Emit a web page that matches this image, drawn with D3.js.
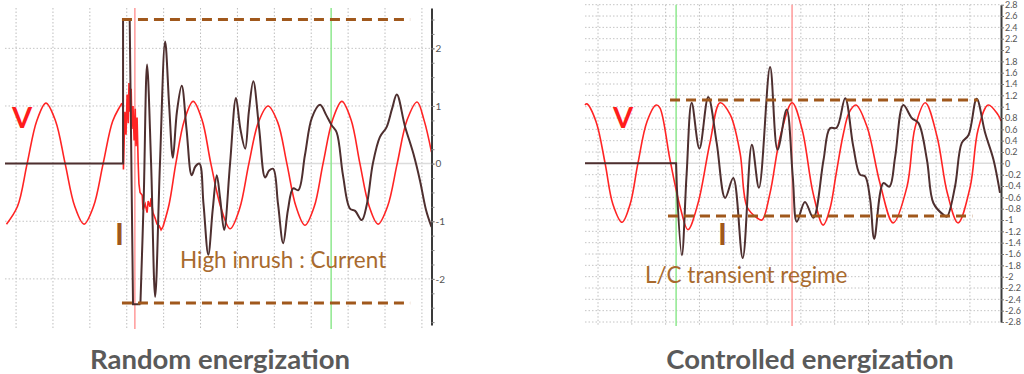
<!DOCTYPE html>
<html>
<head>
<meta charset="utf-8">
<script src="https://cdn.jsdelivr.net/npm/d3@7"></script>
<style>
  body { margin: 0; background: #fff; }
  svg { display: block; font-family: Lato, "Open Sans", sans-serif; }
</style>
</head>
<body>
<svg id="grafico" width="1024" height="374"></svg>
<script>
// time in ms, values in per unit

// random energization
const leftVoltageA = [[-2.6,-1.05],[0.4,-0.74],[3.0,0],[5.6,0.74],[8.1,1.05],[10.7,0.74],[13.3,0],[15.9,-0.74],[18.4,-1.05],[21.0,-0.74],[23.6,0],[26.2,0.74],[28.7,1.05]]
const leftVoltageNoise = [[28.7,1.05],[29.0,0.95],[29.1,-0.1],[29.3,0.4],[29.5,0.9],[29.8,0.5],[30.1,1.2],[30.4,0.7],[30.6,1.4],[30.9,0.9],[31.2,1.3],[31.4,0.6],[31.7,1.0],[32.0,0.4],[32.3,0.95],[32.5,0.3],[32.8,0.8],[33.1,0.0],[33.3,-0.35],[33.6,-0.5],[34.2,-0.55],[34.4,-0.8],[35.0,-0.7],[35.5,-0.85],[35.8,-0.65],[36.3,-0.75],[36.6,-0.6],[37.1,-0.85],[37.7,-0.95],[38.2,-1.05],[38.8,-1.08],[39.3,-1.15],[39.8,-1.1]]
const leftVoltageB = [[39.8,-1.1],[41.5,-0.7],[43.3,0],[45.6,0.75],[48.0,1.08],[50.4,0.76],[52.8,0],[55.6,-0.78],[58.0,-1.13],[60.6,-0.78],[63.1,0],[65.7,0.72],[68.3,1.0],[70.9,0.72],[73.4,0],[75.9,-0.75],[78.3,-1.07],[80.8,-0.75],[83.2,0],[85.8,0.76],[88.3,1.08],[90.8,0.76],[93.2,0],[95.7,-0.74],[98.1,-1.05],[100.7,-0.74],[103.3,0],[106.0,0.76],[108.7,1.07],[110.6,0.75],[112.6,0.2]]
const leftCurrentStep = [[-3.0,0],[29.0,0],[29.0,2.49],[30.8,2.49],[31.7,-2.44],[33.7,-2.44]]
const leftCurrentWave = [[33.7,-2.44],[34.6,-0.6],[35.5,1.72],[36.6,0.0],[37.7,-2.31],[39.0,0.0],[40.4,2.12],[41.5,1.0],[42.5,0.1],[43.6,0.9],[44.9,1.35],[46.2,0.6],[47.6,-0.2],[48.6,-0.05],[49.7,0.0],[50.8,-0.7],[52.1,-1.58],[53.3,-0.8],[54.4,-0.2],[55.3,-0.6],[56.4,-1.15],[58.0,0.0],[59.6,1.14],[60.8,0.6],[62.1,0.26],[63.1,0.9],[64.3,1.43],[65.9,0.6],[67.5,-0.24],[68.6,-0.12],[69.7,-0.09],[71.0,-0.7],[72.4,-1.38],[73.7,-0.8],[75.1,-0.43],[76.5,-0.46],[78.3,0.15],[80.2,0.8],[82.4,1.02],[84.0,0.85],[85.5,0.67],[86.9,0.54],[88.6,-0.2],[90.5,-0.78],[91.9,-0.82],[93.7,-0.98],[95.1,-0.7],[96.7,0.0],[98.6,0.46],[100.4,0.63],[101.9,0.95],[103.2,1.2],[105.4,0.65],[107.7,0.17],[109.5,-0.3],[111.1,-0.8],[112.6,-1.1]]
const leftLimits = [{v: 2.5, t0: 28.7, t1: 106.8}, {v: -2.42, t0: 28.7, t1: 106.8}]
const leftMarkers = [{t: 32.2, color: '#ff9a9a'}, {t: 85.4, color: '#8ee88e'}]
const leftTicks = [-2, -1, 0, 1, 2]

// controlled energization
const rightVoltage = [[-3.85,1.03],[-3.3,1.05],[-0.6,0.74],[2.1,0],[4.4,-0.72],[7.1,-1.04],[9.5,-0.72],[11.8,0],[14.5,0.74],[17.2,1.03],[18.3,0.98],[21.3,0.06],[24.3,-0.77],[26.6,-1.17],[29.6,-0.7],[33.1,0.36],[36.1,1.07],[39.1,0.86],[42.0,0.19],[44.1,-0.77],[47.0,-0.96],[48.5,-1.0],[50.9,-0.52],[53.9,0.47],[57.4,1.07],[60.4,0.59],[63.6,-0.52],[66.6,-1.09],[68.6,-0.8],[70.4,-0.2],[72.5,0.5],[74.3,0.9],[76.3,1.03],[79.6,0.64],[83.4,-0.35],[87.3,-1.05],[91.4,-0.41],[93.8,0.64],[96.8,1.07],[100.3,0.47],[103.3,-0.52],[106.5,-1.05],[110.1,-0.41],[112.4,0.59],[115.4,1.03],[118.3,0.86],[119.2,0.75]]
const rightCurrentStep = [[-3.85,0],[23.1,0],[23.3,-0.4]]
const rightCurrentWave = [[23.3,-0.4],[24.8,-1.62],[26.2,-0.2],[27.7,1.07],[30.0,0.26],[32.6,1.17],[35.1,0.36],[37.6,-0.61],[40.0,-0.26],[42.8,-1.67],[45.5,0.33],[47.6,-0.43],[50.9,1.70],[53.1,0.24],[55.8,0.95],[57.6,-0.23],[58.8,-1.03],[61.2,-0.68],[63.7,-0.96],[66.7,0.06],[68.6,0.62],[70.6,0.63],[73.1,1.15],[75.5,0.3],[77.5,-0.2],[79.0,-0.23],[80.5,-0.64],[81.7,-1.33],[84.4,-0.35],[86.2,-0.41],[87.9,0.12],[90.3,1.03],[92.8,0.8],[94.8,0.71],[97.3,0.06],[99.2,-0.7],[102.2,-0.91],[103.2,-0.94],[105.6,-0.41],[107.6,0.36],[109.6,0.5],[112.0,1.14],[114.5,0.54],[117.0,0.06],[118.9,-0.52]]
const rightLimits = [{v: 1.12, t0: 21.3, t1: 112.4}, {v: -0.93, t0: 20.7, t1: 110.7}]
const rightMarkers = [{t: 23.1, color: '#8ee88e'}, {t: 57.4, color: '#ff9a9a'}]
const rightTicks = d3.range(-14, 15).map(i => i / 5)

const timeGrid = d3.range(0, 120, 10)
const titles = ['Random energization', 'Controlled energization']
const notes = ['High inrush : Current', 'L/C transient regime']

const svg = d3.select('#grafico')

function drawPanel(p) {
  const x = d3.scaleLinear().domain(p.timeDomain).range([p.left, p.right])
  const y = d3.scaleLinear().domain(p.valueDomain).range([p.bottom, p.top])
  const g = svg.append('g')
  const path = curve => d3.line().x(d => x(d[0])).y(d => y(d[1])).curve(curve)

  g.selectAll('.vgrid')
   .data(timeGrid.filter(t => t <= p.timeDomain[1]))
   .enter()
   .append('line')
   .attr('x1', d => x(d)).attr('x2', d => x(d))
   .attr('y1', p.top).attr('y2', p.bottom + 4)
   .attr('stroke', '#bdbdbd')
   .attr('stroke-dasharray', '1.5,2')

  g.selectAll('.hgrid')
   .data(p.gridValues.filter(v => v !== 0))
   .enter()
   .append('line')
   .attr('x1', p.left).attr('x2', p.right)
   .attr('y1', d => y(d)).attr('y2', d => y(d))
   .attr('stroke', '#c4c4c4')
   .attr('stroke-dasharray', '1.5,2')

  g.append('line')
   .attr('x1', p.left).attr('x2', p.right)
   .attr('y1', y(0)).attr('y2', y(0))
   .attr('stroke', '#dcdcdc')
   .attr('stroke-width', 1.5)

  g.selectAll('.marker')
   .data(p.markers)
   .enter()
   .append('line')
   .attr('x1', d => x(d.t)).attr('x2', d => x(d.t))
   .attr('y1', p.top).attr('y2', p.bottom + 4)
   .attr('stroke', d => d.color)
   .attr('stroke-width', 1.5)

  const smooth = d3.curveCatmullRom.alpha(0.5)

  p.voltage.forEach(s => {
    g.append('path')
     .datum(s.data)
     .attr('d', path(s.linear ? d3.curveLinear : smooth))
     .attr('fill', 'none')
     .attr('stroke', '#ff2424')
     .attr('stroke-width', 1.6)
  })

  p.current.forEach(s => {
    g.append('path')
     .datum(s.data)
     .attr('d', path(s.linear ? d3.curveLinear : smooth))
     .attr('fill', 'none')
     .attr('stroke', '#4e2f2f')
     .attr('stroke-width', 2)
  })

  g.selectAll('.limit')
   .data(p.limits)
   .enter()
   .append('line')
   .attr('x1', d => x(d.t0)).attr('x2', d => x(d.t1))
   .attr('y1', d => y(d.v)).attr('y2', d => y(d.v))
   .attr('stroke', '#a0581c')
   .attr('stroke-width', 3)
   .attr('stroke-dasharray', '10,6')

  const axis = g.append('g')
                .attr('transform', `translate(${p.right},0)`)
                .call(d3.axisRight(y).tickValues(p.ticks).tickSize(3).tickSizeOuter(0)
                        .tickFormat(d => d3.format('~g')(d).replace('−', '-')))
  axis.select('.domain').attr('stroke', '#3a3a3a').attr('stroke-width', 2)
  axis.selectAll('line').attr('stroke', '#777')
  axis.selectAll('text')
      .attr('x', 4)
      .attr('fill', '#555')
      .attr('font-size', p.tickFont)
      .attr('font-family', 'Lato, sans-serif')

  if (p.minorTicks) {
    const minor = g.append('g')
                   .attr('transform', `translate(${p.right},0)`)
                   .call(d3.axisRight(y).tickValues(p.minorTicks).tickSize(3).tickFormat(''))
    minor.select('.domain').remove()
    minor.selectAll('line').attr('stroke', '#888')
  }

  g.append('text')
   .attr('x', p.vLabel[0]).attr('y', p.vLabel[1])
   .attr('font-size', 29).attr('font-weight', 'bold')
   .attr('fill', '#ff1c1c')
   .text('V')

  g.append('text')
   .attr('x', p.iLabel[0]).attr('y', p.iLabel[1])
   .attr('font-size', 30).attr('font-weight', 'bold')
   .attr('fill', '#a0581c')
   .text('I')

  g.append('text')
   .attr('x', p.note[0]).attr('y', p.note[1])
   .attr('font-size', 22.5)
   .attr('fill', '#a86a2e')
   .text(p.noteText)

  g.append('text')
   .attr('x', p.titleX).attr('y', 369)
   .attr('text-anchor', 'middle')
   .attr('font-size', 27.5).attr('font-weight', 'bold')
   .attr('fill', '#5a5a5a')
   .text(p.title)
}

drawPanel({
  left: 5, right: 431.5, top: 8, bottom: 325,
  timeDomain: [-3.0, 112.6], valueDomain: [-2.8, 2.7],
  gridValues: leftTicks, ticks: leftTicks, tickFont: 10,
  minorTicks: d3.range(-11, 11).map(i => i / 4),
  markers: leftMarkers, limits: leftLimits,
  voltage: [{data: leftVoltageA}, {data: leftVoltageNoise, linear: true}, {data: leftVoltageB}],
  current: [{data: leftCurrentStep, linear: true}, {data: leftCurrentWave}],
  vLabel: [12, 128], iLabel: [115, 245], note: [180, 268], noteText: notes[0],
  title: titles[0], titleX: 220
})

drawPanel({
  left: 585, right: 1001, top: 4.7, bottom: 322,
  timeDomain: [-3.85, 119.2], valueDomain: [-2.8, 2.8],
  gridValues: rightTicks, ticks: rightTicks, tickFont: 9,
  markers: rightMarkers, limits: rightLimits,
  voltage: [{data: rightVoltage}],
  current: [{data: rightCurrentStep, linear: true}, {data: rightCurrentWave}],
  vLabel: [613, 128], iLabel: [718, 245], note: [645, 283], noteText: notes[1],
  title: titles[1], titleX: 810
})
</script>
</body>
</html>
